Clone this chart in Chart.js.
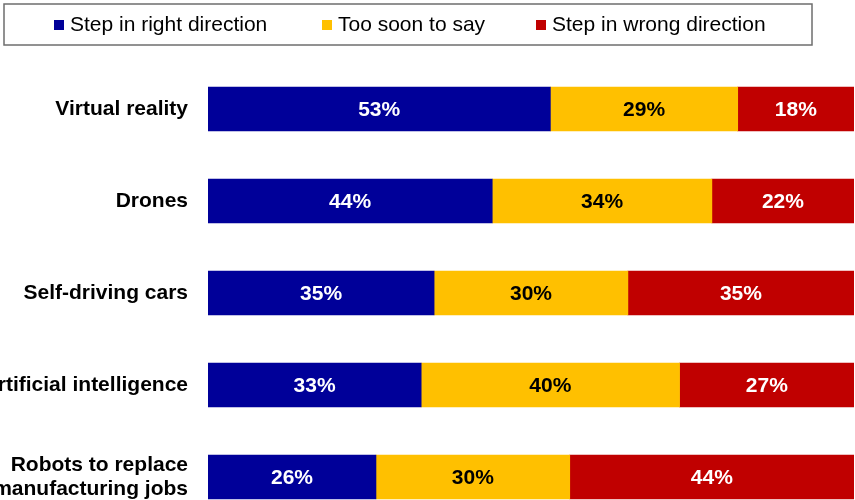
<!DOCTYPE html>
<html>
<head>
<meta charset="utf-8">
<script src="https://cdn.jsdelivr.net/npm/chart.js@4/dist/chart.umd.min.js"></script>
<style>
  html, body { margin: 0; padding: 0; background: #fff; overflow: hidden; }
  #wrap { position: relative; width: 855px; height: 573px; }
</style>
</head>
<body>
<div id="wrap"><canvas id="c" width="855" height="573"></canvas></div>
<script>
const categories = ["Virtual reality", "Drones", "Self-driving cars", "Artificial intelligence", ["Robots to replace", "manufacturing jobs"]];
const seriesNames = ["Step in right direction", "Too soon to say", "Step in wrong direction"];
const rightDirection = [53, 44, 35, 33, 26];
const tooSoon = [29, 34, 30, 40, 30];
const wrongDirection = [18, 22, 35, 27, 44];
const colors = ["#000099", "#FFC000", "#C00000"];
const labelColors = ["#FFFFFF", "#000000", "#FFFFFF"];
const FONT = "'Liberation Sans', Arial, Helvetica, sans-serif";

const legendBox = {
  id: 'legendBox',
  afterDraw(chart) {
    const ctx = chart.ctx;
    ctx.save();
    ctx.strokeStyle = '#6e6e6e';
    ctx.lineWidth = 1.5;
    ctx.strokeRect(4, 4, 808, 41);
    const xs = [54, 322, 536];
    ctx.font = '21px ' + FONT;
    ctx.textBaseline = 'middle';
    ctx.textAlign = 'left';
    chart.data.datasets.forEach((ds, i) => {
      ctx.fillStyle = ds.backgroundColor;
      ctx.fillRect(xs[i], 20, 10, 10);
      ctx.fillStyle = '#000';
      ctx.fillText(ds.label, xs[i] + 16, 25);
    });
    ctx.restore();
  }
};

const valueLabels = {
  id: 'valueLabels',
  afterDatasetsDraw(chart) {
    const ctx = chart.ctx;
    ctx.save();
    ctx.font = 'bold 21px ' + FONT;
    ctx.textAlign = 'center';
    ctx.textBaseline = 'middle';
    chart.data.datasets.forEach((ds, i) => {
      const meta = chart.getDatasetMeta(i);
      meta.data.forEach((bar, j) => {
        const v = ds.data[j];
        const cx = (bar.x + bar.base) / 2;
        ctx.fillStyle = labelColors[i];
        ctx.fillText(v + '%', cx, bar.y + 1);
      });
    });
    ctx.restore();
  }
};

new Chart(document.getElementById('c'), {
  type: 'bar',
  data: {
    labels: categories,
    datasets: [
      { label: seriesNames[0], data: rightDirection, backgroundColor: colors[0] },
      { label: seriesNames[1], data: tooSoon, backgroundColor: colors[1] },
      { label: seriesNames[2], data: wrongDirection, backgroundColor: colors[2] }
    ]
  },
  options: {
    indexAxis: 'y',
    responsive: false,
    animation: false,
    devicePixelRatio: 1,
    layout: { padding: { top: 63, bottom: 50, right: 1, left: 0 } },
    datasets: { bar: { barThickness: 44, borderWidth: 0 } },
    plugins: { legend: { display: false }, tooltip: { enabled: false } },
    scales: {
      x: { stacked: true, min: 0, max: 100, display: false },
      y: {
        stacked: true,
        grid: { display: false },
        border: { display: false },
        ticks: {
          color: '#000',
          padding: 12,
          font: { family: FONT, size: 21, weight: 'bold', lineHeight: 1.15 }
        },
        afterFit(scale) { scale.width = 208; }
      }
    }
  },
  plugins: [legendBox, valueLabels]
});
</script>
</body>
</html>
